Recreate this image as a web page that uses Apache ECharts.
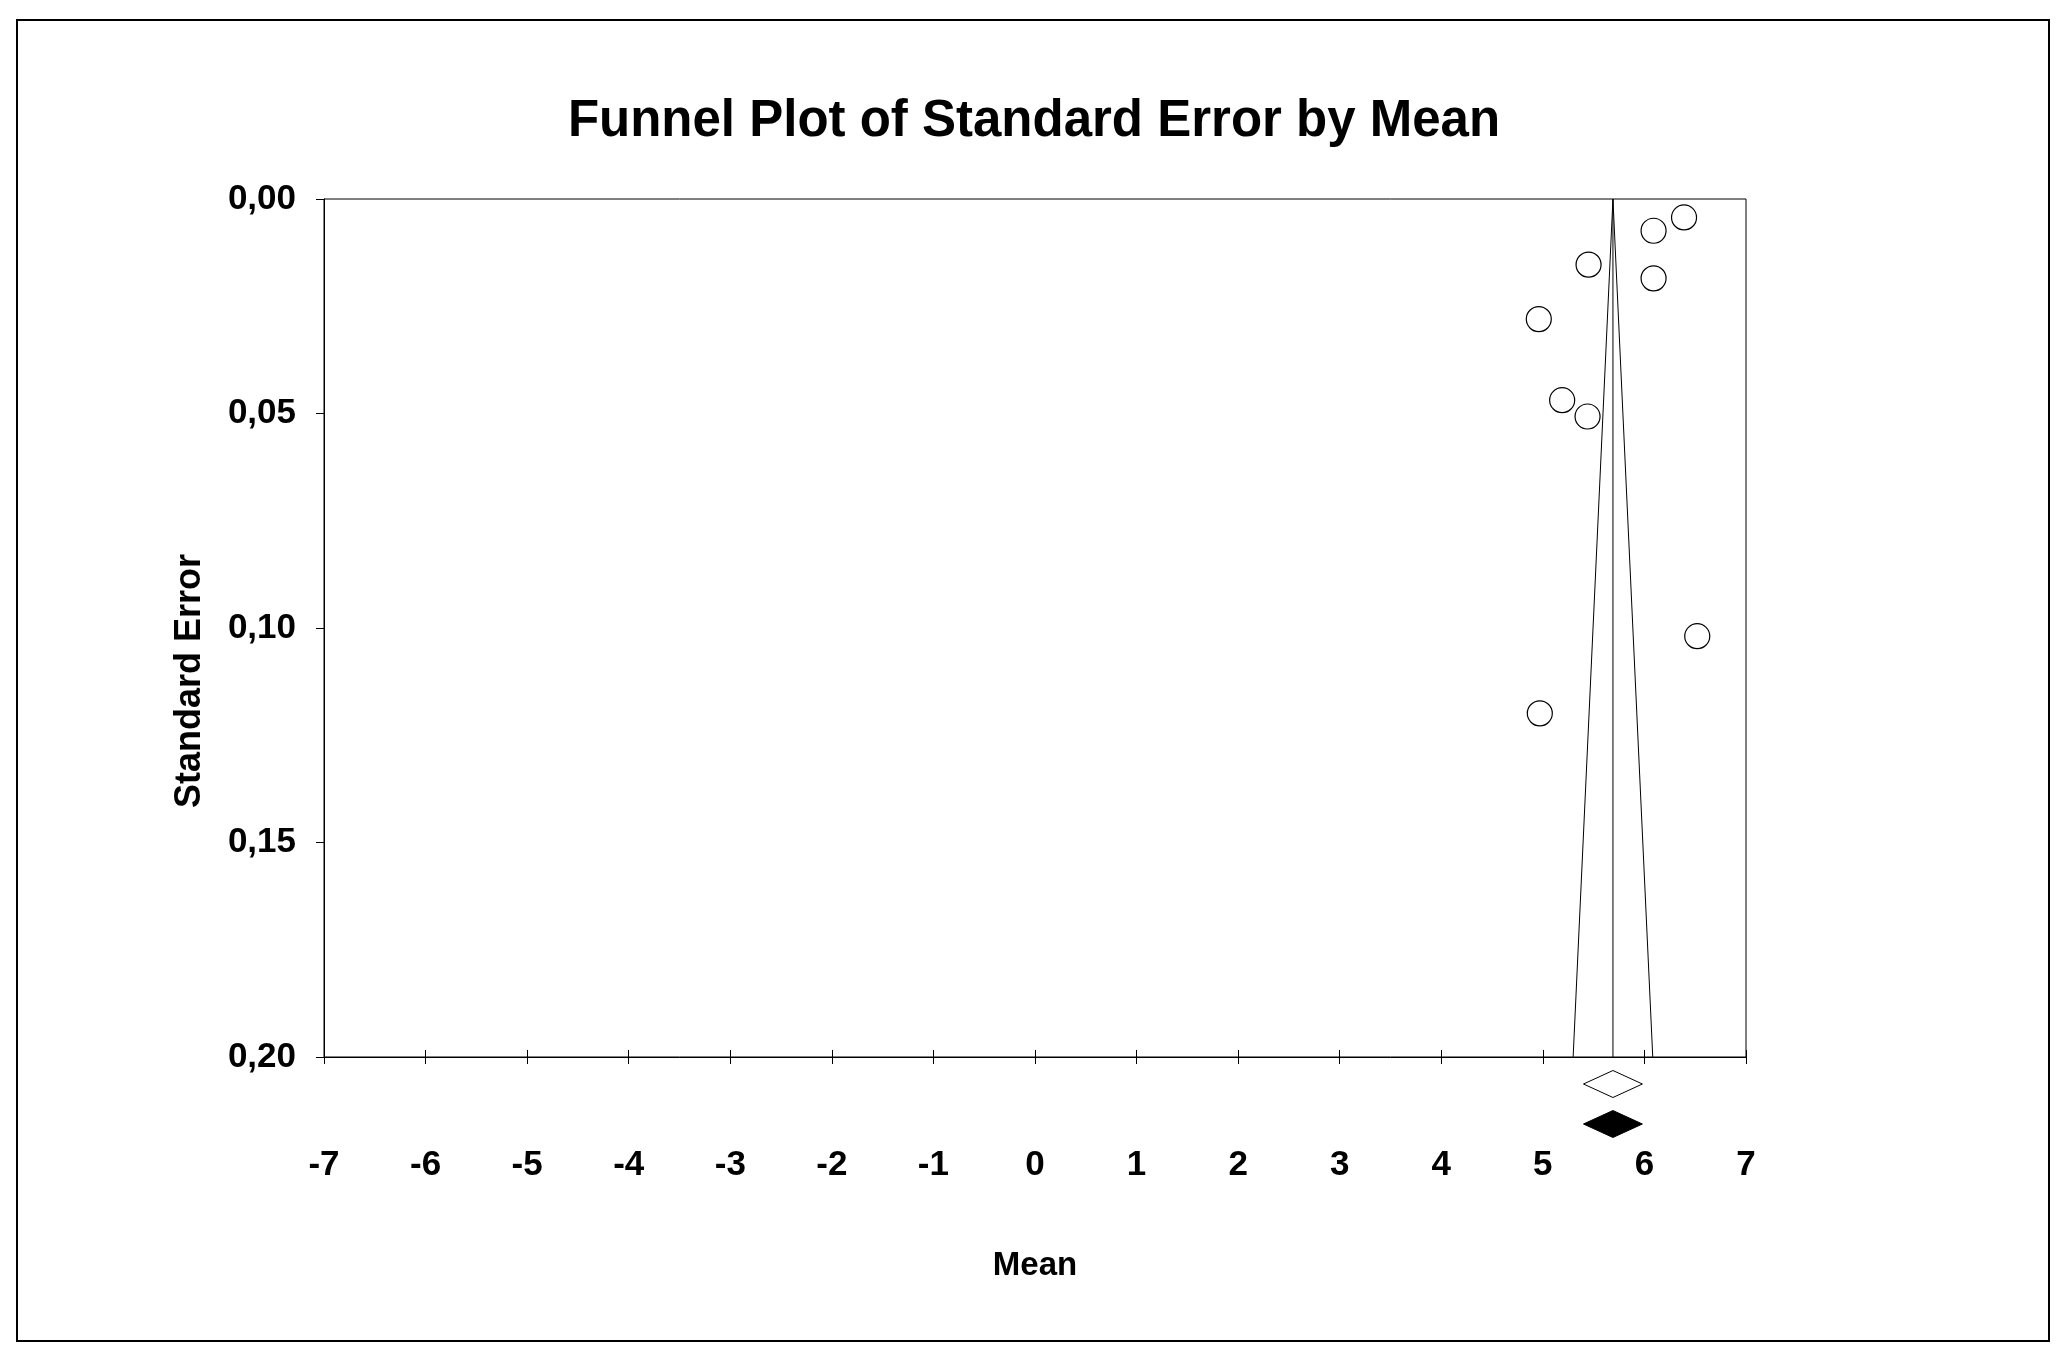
<!DOCTYPE html>
<html>
<head>
<meta charset="utf-8">
<style>
  html, body { margin: 0; padding: 0; background: #fff; }
  #main { width: 2068px; height: 1361px; }
</style>
<script src="https://cdn.jsdelivr.net/npm/echarts@6/dist/echarts.min.js"></script>
</head>
<body>
<div id="main"></div>
<script>
// study effects (mean) and their standard errors
var studyMeans = [6.39, 6.09, 5.45, 6.09, 4.96, 5.19, 5.44, 6.52, 4.97];
var studyErrors = [0.0043, 0.0074, 0.0153, 0.0185, 0.0280, 0.0469, 0.0507, 0.1019, 0.1199];

// pooled estimate and the two summary diamonds (lower, mean, upper)
var pooledMean = 5.69;
var summaryLower = [5.40, 5.40];
var summaryMean = [5.69, 5.69];
var summaryUpper = [5.98, 5.98];

var xTicks = [-7, -6, -5, -4, -3, -2, -1, 0, 1, 2, 3, 4, 5, 6, 7];
var yTicks = [0, 0.05, 0.10, 0.15, 0.20];

var font = 'Liberation Sans, Arial, sans-serif';
var chart = echarts.init(document.getElementById('main'));

var points = studyMeans.map(function(m, i) { return [m, studyErrors[i]]; });
var seMax = yTicks[yTicks.length - 1];
var funnel = [
  [pooledMean - 1.96 * seMax, seMax],
  [pooledMean, 0],
  [pooledMean + 1.96 * seMax, seMax]
];
var diamonds = summaryMean.map(function(m, i) { return [m, summaryLower[i], summaryUpper[i], i]; });

var option = {
  backgroundColor: '#fff',
  animation: false,
  title: {
    text: 'Funnel Plot of Standard Error by Mean',
    left: 'center',
    top: 91,
    textStyle: { fontFamily: font, fontSize: 51, fontWeight: 'bold', color: '#000' }
  },
  graphic: [
    {
      type: 'rect',
      shape: { x: 17, y: 20, width: 2032, height: 1321 },
      style: { fill: 'none', stroke: '#000', lineWidth: 2 }
    },
    {
      type: 'text',
      x: 190, y: 681,
      rotation: Math.PI / 2,
      style: {
        text: 'Standard Error',
        fontFamily: font, fontSize: 36, fontWeight: 'bold', fill: '#000',
        align: 'center', verticalAlign: 'middle'
      }
    }
  ],
  grid: {
    left: 324, top: 199, width: 1422, height: 858,
    show: true, borderColor: '#000', borderWidth: 1, backgroundColor: '#fff'
  },
  xAxis: [{
    type: 'value',
    min: xTicks[0], max: xTicks[xTicks.length - 1], interval: 1,
    position: 'bottom',
    name: 'Mean', nameLocation: 'middle', nameGap: 192,
    nameTextStyle: { fontFamily: font, fontSize: 33, fontWeight: 'bold', color: '#000' },
    axisLine: { show: true, onZero: false, lineStyle: { color: '#000', width: 1 } },
    axisTick: { show: true, inside: false, length: 7, lineStyle: { color: '#000' } },
    axisLabel: { margin: 91, fontFamily: font, fontSize: 35, fontWeight: 'bold', color: '#000' },
    splitLine: { show: false }
  }, {
    type: 'value',
    min: xTicks[0], max: xTicks[xTicks.length - 1], interval: 1,
    position: 'bottom', offset: 0,
    axisLine: { show: false, onZero: false },
    axisTick: { show: true, inside: true, length: 7, lineStyle: { color: '#000' } },
    axisLabel: { show: false },
    splitLine: { show: false }
  }],
  yAxis: {
    type: 'value',
    inverse: true,
    min: 0, max: seMax, interval: 0.05,
    axisLine: { show: true, onZero: false, lineStyle: { color: '#000', width: 1 } },
    axisTick: { show: true, inside: false, length: 8, lineStyle: { color: '#000' } },
    axisLabel: {
      margin: 28, fontFamily: font, fontSize: 35, fontWeight: 'bold', color: '#000',
      formatter: function(v) { return v.toFixed(2).replace('.', ','); }
    },
    splitLine: { show: false }
  },
  series: [
    {
      type: 'line',
      data: funnel,
      symbol: 'none',
      lineStyle: { color: '#000', width: 1 },
      silent: true
    },
    {
      type: 'line',
      data: [[pooledMean, 0], [pooledMean, seMax]],
      symbol: 'none',
      lineStyle: { color: '#000', width: 1 },
      silent: true
    },
    {
      type: 'scatter',
      data: points,
      symbol: 'circle',
      symbolSize: 25,
      itemStyle: { color: '#fff', borderColor: '#000', borderWidth: 1.2, opacity: 1 },
      z: 5
    },
    {
      type: 'custom',
      clip: false,
      data: diamonds,
      renderItem: function(params, api) {
        var base = api.coord([api.value(0), seMax]);
        var lo = api.coord([api.value(1), seMax]);
        var hi = api.coord([api.value(2), seMax]);
        var idx = api.value(3);
        var cy = base[1] + (idx === 0 ? 27 : 67);
        var h = 13.5;
        return {
          type: 'polygon',
          shape: { points: [[lo[0], cy], [base[0], cy - h], [hi[0], cy], [base[0], cy + h]] },
          style: { fill: idx === 0 ? '#fff' : '#000', stroke: '#000', lineWidth: 1 }
        };
      },
      encode: { x: 0, y: 3 }
    }
  ]
};

chart.setOption(option);
</script>
</body>
</html>
